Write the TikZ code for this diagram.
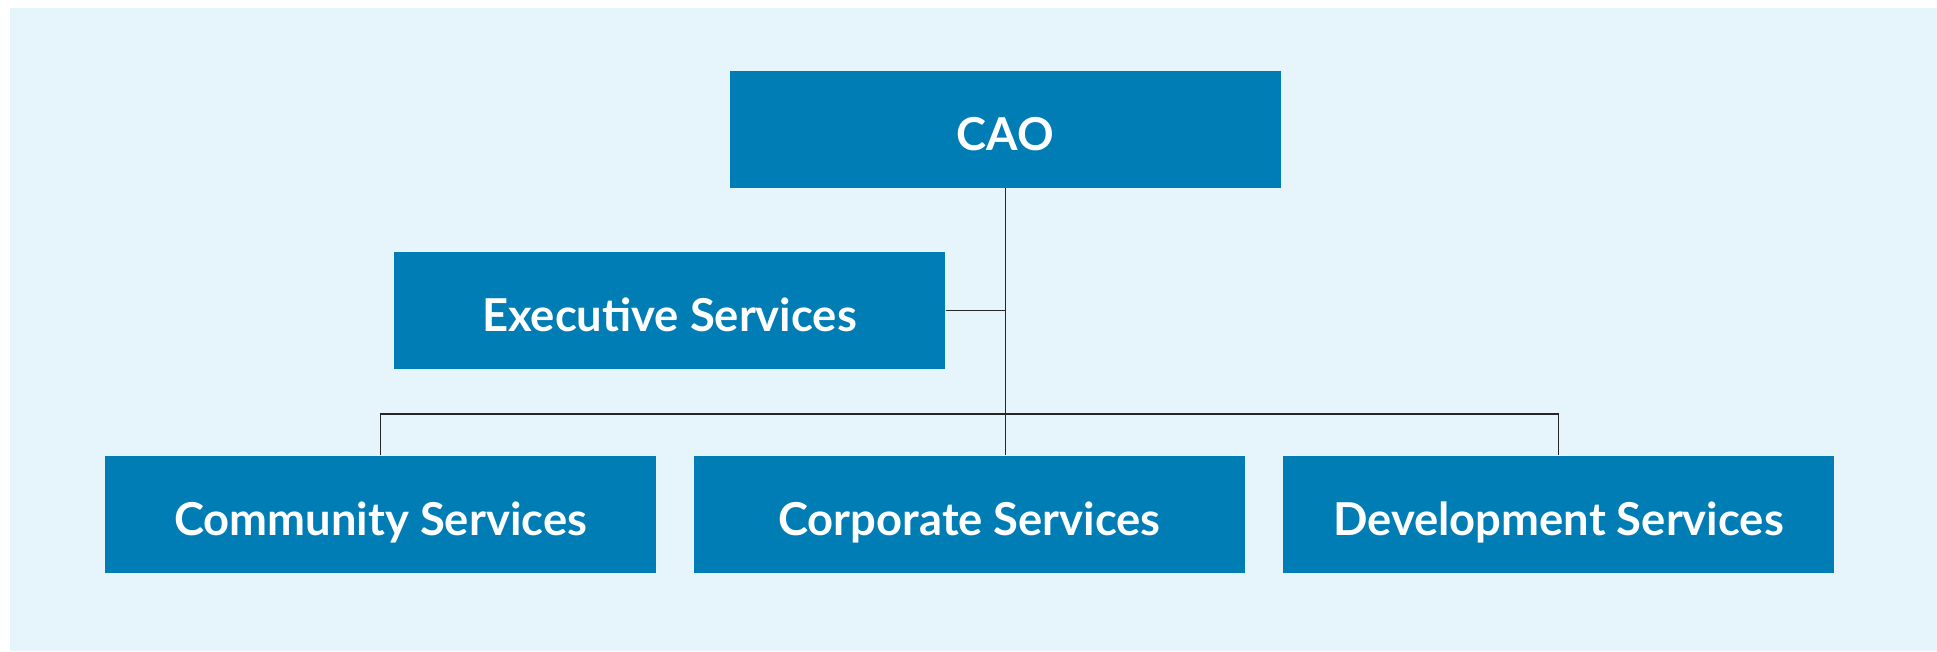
\documentclass[tikz,border=0pt]{standalone}
\usepackage{fontspec}
\setmainfont{Lato}
\usetikzlibrary{calc}
\definecolor{paleblue}{RGB}{230,245,251}
\definecolor{unitblue}{RGB}{0,125,181}
\tikzset{
	unit/.style={fill=unitblue, text=white, font=\bfseries\fontsize{12.9}{15}\selectfont,
		minimum width=5.51cm, minimum height=1.17cm, inner sep=0pt,
		text height=12pt, text depth=0pt},
	link/.style={draw=black!85, line width=0.5pt}
}

\begin{document}
\begin{tikzpicture}
		%%%%% START %%%%%
		\useasboundingbox (0, 0) rectangle (19.37, -6.51);
		\fill[paleblue] (0.10, -0.08) rectangle (19.37, -6.51);
		
		\node[unit] (cao) at (10.055, -1.29) {CAO};
		\node[unit] (exec) at (6.695, -3.105) {Executive Services};
		
		\node[unit] (comm) at (3.805, -5.145) {Community Services};
		\node[unit] (corp) at (9.695, -5.145) {Corporate Services};
		\node[unit] (dev) at (15.585, -5.145) {Development Services};
		
		\coordinate (bus) at (10.055, -4.14);
		
		\draw[link] (cao.south) -- (cao.south |- corp.north);
		\draw[link] (exec.east) -- (cao.south |- exec.east);
		\draw[link] (comm.north) |- (bus) -| (dev.north);
		%%%%% END %%%%%
	\end{tikzpicture}
\end{document}
